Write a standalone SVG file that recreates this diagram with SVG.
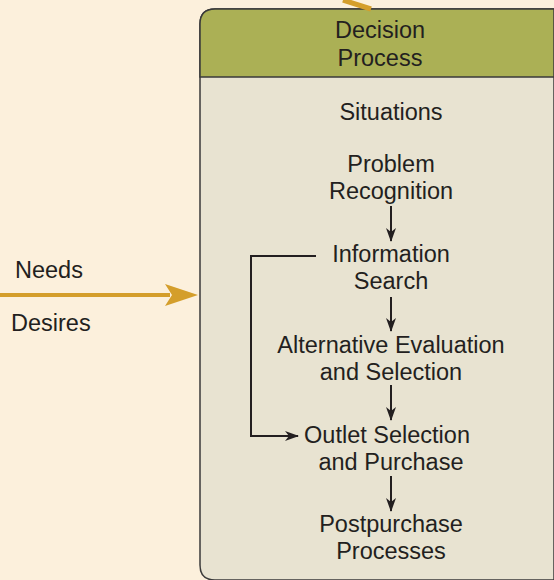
<svg xmlns="http://www.w3.org/2000/svg" width="554" height="580" viewBox="0 0 554 580">
<defs>
<style>
text{font-family:"Liberation Sans",Arial,sans-serif;font-size:23.5px;fill:#231f20;text-anchor:middle}
.l{text-anchor:start}
.c{stroke:#231f20;stroke-width:2;fill:none}
</style>
<marker id="ah" viewBox="0 0 14 10" refX="13" refY="5" markerWidth="14" markerHeight="10" markerUnits="userSpaceOnUse" orient="auto"><path d="M0,0 L14,5 L0,10 L4,5 Z" fill="#231f20"/></marker>
<filter id="sh" x="-20%" y="-200%" width="140%" height="500%"><feGaussianBlur stdDeviation="5"/></filter>
</defs>
<rect width="554" height="580" fill="#fcf0dc"/>
<g id="box">
<path d="M200,24 Q200,9 215,9 L554,9 L554,580 L215,580 Q200,580 200,565 Z" fill="#e8e3d1" stroke="#3a3a3a" stroke-width="1.5"/>
<path d="M200,77 L200,24 Q200,9 215,9 L554,9 L554,77 Z" fill="#abb055" stroke="#3a3a3a" stroke-width="1.5"/>
<text x="380" y="38">Decision</text>
<text x="380" y="66">Process</text>
</g>
<g id="inputs">
<path d="M0,306 L190,306" stroke="#b8a890" stroke-width="8" opacity="0.6" filter="url(#sh)"/>
<path d="M0,295 L170,295" stroke="#d49e2b" stroke-width="4"/>
<path d="M198,295 L165,284 L172,295 L165,306 Z" fill="#d49e2b"/>
<path d="M343,0 L371,9" stroke="#d49e2b" stroke-width="5"/>
<text class="l" x="15" y="278">Needs</text>
<text class="l" x="11" y="331">Desires</text>
</g>
<g id="situations"><text x="391" y="120">Situations</text></g>
<g id="problem"><text x="391" y="172">Problem</text><text x="391" y="199">Recognition</text></g>
<g id="search"><text x="391" y="262">Information</text><text x="391" y="289">Search</text></g>
<g id="evaluation"><text x="391" y="353">Alternative Evaluation</text><text x="391" y="380">and Selection</text></g>
<g id="outlet"><text x="387" y="443">Outlet Selection</text><text x="391" y="470">and Purchase</text></g>
<g id="post"><text x="391" y="532">Postpurchase</text><text x="391" y="559">Processes</text></g>
<g id="connectors">
<path class="c" d="M391,206 L391,241" marker-end="url(#ah)"/>
<path class="c" d="M391,297 L391,331" marker-end="url(#ah)"/>
<path class="c" d="M391,385 L391,420" marker-end="url(#ah)"/>
<path class="c" d="M391,476 L391,511" marker-end="url(#ah)"/>
<path class="c" d="M316,256 L251,256 L251,436 L298,436" marker-end="url(#ah)"/>
</g>
</svg>
